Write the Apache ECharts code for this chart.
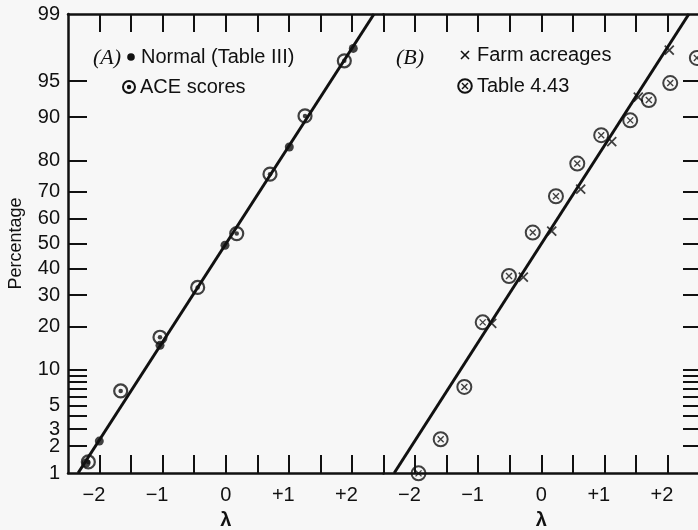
<!DOCTYPE html>
<html>
<head>
<meta charset="utf-8">
<script src="https://cdn.jsdelivr.net/npm/echarts@6/dist/echarts.min.js"></script>
<style>html,body{margin:0;padding:0;background:#f7f7f7;}#c{width:698px;height:530px;}</style>
</head>
<body>
<div id="c"></div>
<script>
// ---- data (lambda, percentage) ----
const normalLambda = [-2.215, -2.004, -1.042, -0.012, 1.007, 2.021];
const normalPct    = [1.30, 2.26, 15.1, 49.3, 83.6, 97.6];

const aceLambda = [-2.178, -1.665, -1.042, -0.445, 0.174, 0.701, 1.256, 1.879];
const acePct    = [1.34, 6.75, 17.1, 32.8, 54.0, 75.9, 90.2, 96.8];

const farmLambda = [-0.785, -0.284, 0.166, 0.625, 1.117, 1.538, 2.029];
const farmPct    = [20.9, 36.7, 55.0, 70.9, 84.9, 93.1, 97.5];

const t443Lambda = [-1.945, -1.594, -1.219, -0.928, -0.511, -0.135, 0.233, 0.571, 0.950, 1.410, 1.705, 2.044, 2.466];
const t443Pct    = [0.99, 2.36, 7.3, 21.2, 37.1, 54.4, 68.4, 79.1, 86.4, 89.4, 92.7, 94.8, 97.0];

const fitALambda = [-2.34, 2.35];
const fitBLambda = [-2.33, 2.34];
const fitPct     = [1, 99];

const yLabelPct = [1, 2, 3, 5, 10, 20, 30, 40, 50, 60, 70, 80, 90, 95, 99];
const yTickPct  = [2, 3, 4, 5, 6, 7, 8, 9, 10, 20, 30, 40, 50, 60, 70, 80, 90, 95];
const xLabels   = [-2, -1, 0, 1, 2];
const xTicksA   = [-2, -1.5, -1, -0.5, 0, 0.5, 1, 1.5, 2, 2.5];
const xTicksB   = [-2, -1.5, -1, -0.5, 0, 0.5, 1, 1.5, 2];
const legendTexts = ['Normal (Table III)', 'ACE scores', 'Farm acreages', 'Table 4.43'];

// inverse normal CDF (probability scale)
function probit(p) {
  const a=[-3.969683028665376e+01,2.209460984245205e+02,-2.759285104469687e+02,1.383577518672690e+02,-3.066479806614716e+01,2.506628277459239e+00];
  const b=[-5.447609879822406e+01,1.615858368580409e+02,-1.556989798598866e+02,6.680131188771972e+01,-1.328068155288572e+01];
  const c=[-7.784894002430293e-03,-3.223964580411365e-01,-2.400758277161838e+00,-2.549732539343734e+00,4.374664141464968e+00,2.938163982698783e+00];
  const d=[7.784695709041462e-03,3.224671290700398e-01,2.445134137142996e+00,3.754408661907416e+00];
  const pl=0.02425, ph=1-pl; let q,r;
  if(p<pl){q=Math.sqrt(-2*Math.log(p));return (((((c[0]*q+c[1])*q+c[2])*q+c[3])*q+c[4])*q+c[5])/((((d[0]*q+d[1])*q+d[2])*q+d[3])*q+1);}
  if(p<=ph){q=p-0.5;r=q*q;return (((((a[0]*r+a[1])*r+a[2])*r+a[3])*r+a[4])*r+a[5])*q/(((((b[0]*r+b[1])*r+b[2])*r+b[3])*r+b[4])*r+1);}
  q=Math.sqrt(-2*Math.log(1-p));return -(((((c[0]*q+c[1])*q+c[2])*q+c[3])*q+c[4])*q+c[5])/((((d[0]*q+d[1])*q+d[2])*q+d[3])*q+1);
}
const z = pct => probit(pct / 100);
const pts = (lam, pct) => lam.map((l, i) => [l, z(pct[i])]);

const INK = '#111111';
const FONT = 'Liberation Sans';
const zMin = z(1), zMax = z(99);

function xFmt(v) {
  if (v === 0) return '0';
  return (v > 0 ? '+' + v : '\u2212' + (-v)) + '  ';
}
function yFmt(v) {
  for (const p of yLabelPct) if (Math.abs(z(p) - v) < 1e-6) return String(p);
  return '';
}

function xAxisDef(grid, pos, ticks, withLabels) {
  return {
    gridIndex: grid, type: 'value', min: -2.5, max: 2.5, position: pos,
    axisLine: { show: true, onZero: false, lineStyle: { color: INK, width: 2.5 } },
    axisTick: { show: true, inside: true, length: 18, customValues: ticks, lineStyle: { color: INK, width: 2 } },
    axisLabel: withLabels ? { show: true, customValues: xLabels, formatter: xFmt, color: INK,
      fontFamily: FONT, fontSize: 20, margin: 12 } : { show: false },
    splitLine: { show: false },
    name: withLabels ? '\u03bb' : '', nameLocation: 'middle', nameGap: 37,
    nameTextStyle: { color: INK, fontFamily: FONT, fontSize: 20, fontWeight: 'bold' }
  };
}

const xPath = 'path://M0,0L10,10M10,0L0,10';
const txt = (s, x, y, font) => ({ type: 'text', style: { text: s, x: x, y: y, verticalAlign: 'middle', font: font, fill: INK } });
const SANS = '20px "Liberation Sans"';
const SERIF_I = 'italic 22px "Liberation Serif"';

const chart = echarts.init(document.getElementById('c'), null, { renderer: 'canvas' });
chart.setOption({
  backgroundColor: '#f7f7f7',
  animation: false,
  grid: [
    { left: 68, top: 14, width: 315.5, height: 459, containLabel: false, outerBoundsMode: 'none' },
    { left: 383.5, top: 14, width: 315.5, height: 459, containLabel: false, outerBoundsMode: 'none' }
  ],
  xAxis: [
    xAxisDef(0, 'bottom', xTicksA, true),
    xAxisDef(0, 'top', xTicksA, false),
    xAxisDef(1, 'bottom', xTicksB, true),
    xAxisDef(1, 'top', xTicksB, false)
  ],
  yAxis: [
    {
      gridIndex: 0, type: 'value', min: zMin, max: zMax, position: 'left',
      axisLine: { show: true, onZero: false, lineStyle: { color: INK, width: 2.5 } },
      axisTick: { show: true, inside: true, length: 19, customValues: yTickPct.map(z), lineStyle: { color: INK, width: 2 } },
      axisLabel: { show: true, customValues: yLabelPct.map(z), formatter: yFmt, color: INK,
        fontFamily: FONT, fontSize: 20, margin: 8 },
      splitLine: { show: false },
      name: 'Percentage', nameLocation: 'middle', nameRotate: 90, nameGap: 43,
      nameTextStyle: { color: INK, fontFamily: FONT, fontSize: 18 }
    },
    {
      gridIndex: 1, type: 'value', min: zMin, max: zMax, position: 'right',
      axisLine: { show: true, onZero: false, lineStyle: { color: INK, width: 2.5 } },
      axisTick: { show: true, inside: true, length: 16, customValues: yTickPct.map(z), lineStyle: { color: INK, width: 2 } },
      axisLabel: { show: false },
      splitLine: { show: false }
    }
  ],
  series: [
    { type: 'line', xAxisIndex: 0, yAxisIndex: 0, data: pts(fitALambda, fitPct), symbol: 'none',
      lineStyle: { color: INK, width: 3 }, silent: true, clip: false },
    { type: 'scatter', name: legendTexts[0], xAxisIndex: 0, yAxisIndex: 0, data: pts(normalLambda, normalPct),
      symbol: 'circle', symbolSize: 9, itemStyle: { color: INK }, clip: false },
    { type: 'scatter', name: legendTexts[1], xAxisIndex: 0, yAxisIndex: 0, data: pts(aceLambda, acePct),
      symbol: 'circle', symbolSize: 13, itemStyle: { color: 'rgba(0,0,0,0)', borderColor: INK, borderWidth: 2.2 }, clip: false },
    { type: 'scatter', xAxisIndex: 0, yAxisIndex: 0, data: pts(aceLambda, acePct),
      symbol: 'circle', symbolSize: 4.5, itemStyle: { color: INK }, clip: false },

    { type: 'line', xAxisIndex: 2, yAxisIndex: 1, data: pts(fitBLambda, fitPct), symbol: 'none',
      lineStyle: { color: INK, width: 3 }, silent: true, clip: false },
    { type: 'scatter', name: legendTexts[2], xAxisIndex: 2, yAxisIndex: 1, data: pts(farmLambda, farmPct),
      symbol: xPath, symbolSize: 9, itemStyle: { color: 'rgba(0,0,0,0)', borderColor: INK, borderWidth: 1.8 }, clip: false },
    { type: 'scatter', name: legendTexts[3], xAxisIndex: 2, yAxisIndex: 1, data: pts(t443Lambda, t443Pct),
      symbol: 'circle', symbolSize: 14, itemStyle: { color: 'rgba(0,0,0,0)', borderColor: INK, borderWidth: 2 }, clip: false },
    { type: 'scatter', xAxisIndex: 2, yAxisIndex: 1, data: pts(t443Lambda, t443Pct),
      symbol: xPath, symbolSize: 6, itemStyle: { color: 'rgba(0,0,0,0)', borderColor: INK, borderWidth: 1.4 }, clip: false }
  ],
  graphic: [
    txt('(A)', 93, 58, SERIF_I),
    { type: 'circle', shape: { cx: 131, cy: 57, r: 3.8 }, style: { fill: INK } },
    txt(legendTexts[0], 141, 57, SANS),
    { type: 'circle', shape: { cx: 129, cy: 87, r: 6 }, style: { fill: 'none', stroke: INK, lineWidth: 2 } },
    { type: 'circle', shape: { cx: 129, cy: 87, r: 2.2 }, style: { fill: INK } },
    txt(legendTexts[1], 140, 87, SANS),

    txt('(B)', 396, 58, SERIF_I),
    { type: 'line', shape: { x1: 461, y1: 51, x2: 469, y2: 59 }, style: { stroke: INK, lineWidth: 1.6 } },
    { type: 'line', shape: { x1: 469, y1: 51, x2: 461, y2: 59 }, style: { stroke: INK, lineWidth: 1.6 } },
    txt(legendTexts[2], 477, 55, SANS),
    { type: 'circle', shape: { cx: 465, cy: 86, r: 6.8 }, style: { fill: 'none', stroke: INK, lineWidth: 2 } },
    { type: 'line', shape: { x1: 462, y1: 83, x2: 468, y2: 89 }, style: { stroke: INK, lineWidth: 1.4 } },
    { type: 'line', shape: { x1: 468, y1: 83, x2: 462, y2: 89 }, style: { stroke: INK, lineWidth: 1.4 } },
    txt(legendTexts[3], 477, 86, SANS)
  ]
});
</script>
</body>
</html>
